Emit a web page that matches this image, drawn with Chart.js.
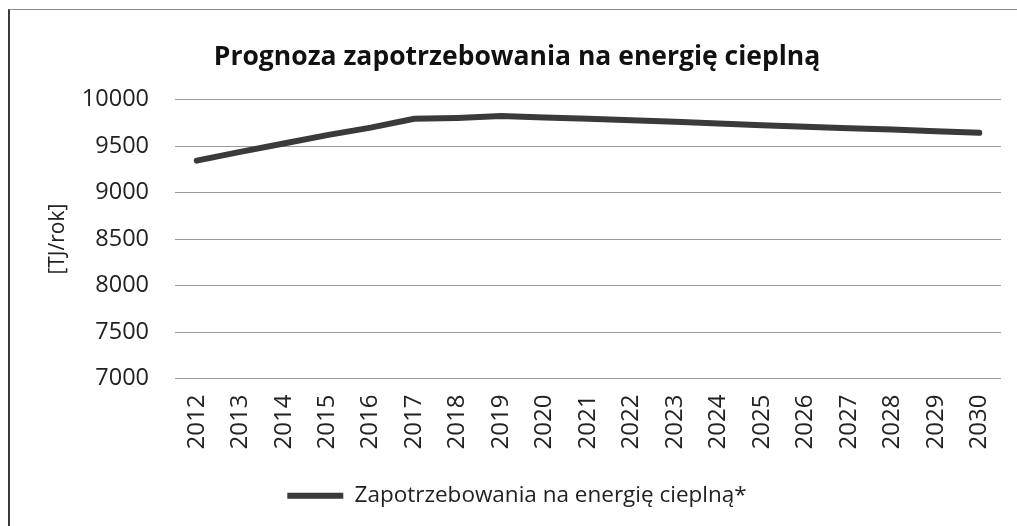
<!DOCTYPE html>
<html lang="pl">
<head>
<meta charset="utf-8">
<script src="https://cdn.jsdelivr.net/npm/chart.js@4"></script>
<style>
    html, body { margin: 0; padding: 0; background: #fff; }
    #wrap { position: relative; width: 1017px; height: 526px; overflow: hidden; }
    #frame {
        position: absolute; left: 8px; top: 9px; right: -5px; bottom: -5px;
        border-left: 2px solid #3a3a3a; border-top: 1px solid #8a8a8a;
        pointer-events: none;
    }
    canvas { position: absolute; left: 0; top: 0; }
</style>
</head>
<body>
<div id="wrap">
    <canvas id="heatChart" width="1017" height="526"></canvas>
    <div id="frame"></div>
</div>
<script>
// --- Data ---
const years = ['2012', '2013', '2014', '2015', '2016', '2017', '2018', '2019', '2020', '2021',
    '2022', '2023', '2024', '2025', '2026', '2027', '2028', '2029', '2030'];
const demand = [9345, 9440, 9530, 9620, 9700, 9795, 9805, 9825, 9810, 9795,
    9780, 9765, 9745, 9725, 9710, 9695, 9680, 9662, 9645];
const yTicks = [7000, 7500, 8000, 8500, 9000, 9500, 10000];

const chartTitle = 'Prognoza zapotrzebowania na energię cieplną';
const seriesName = 'Zapotrzebowania na energię cieplną*';
const yTitle = '[TJ/rok]';

const FONT = '"Open Sans", "DejaVu Sans", sans-serif';
const INK = '#222';

const ctx = document.getElementById('heatChart').getContext('2d');
new Chart(ctx, {
    type: 'line',
    data: {
        labels: years,
        datasets: [{
            label: seriesName,
            data: demand,
            borderColor: '#3a3a3a',
            backgroundColor: '#3a3a3a',
            borderWidth: 6,
            borderCapStyle: 'round',
            pointRadius: 0,
            pointStyle: 'line',
            tension: 0
        }]
    },
    options: {
        responsive: false,
        animation: false,
        layout: { padding: { left: 33, right: 16, top: 0, bottom: 9 } },
        plugins: {
            title: {
                display: true,
                text: chartTitle,
                color: '#111',
                font: { family: FONT, size: 26.5, weight: 'bold' },
                padding: { top: 42, bottom: 26 }
            },
            legend: {
                position: 'bottom',
                labels: {
                    color: INK,
                    font: { family: FONT, size: 22.5 },
                    usePointStyle: true,
                    pointStyle: 'line',
                    pointStyleWidth: 56,
                    padding: 10
                }
            },
            tooltip: { enabled: false }
        },
        scales: {
            x: {
                offset: true,
                grid: { display: false },
                border: { display: false },
                ticks: {
                    color: INK,
                    font: { family: FONT, size: 24 },
                    maxRotation: 90,
                    minRotation: 90,
                    padding: 8,
                    autoSkip: false
                },
                afterFit: (scale) => { scale.height = 96; }
            },
            y: {
                min: 7000,
                max: 10000,
                afterBuildTicks: (scale) => { scale.ticks = yTicks.map(v => ({ value: v })); },
                grid: { color: '#9a9a9a', lineWidth: 1, drawTicks: false },
                border: { display: false },
                ticks: {
                    color: INK,
                    font: { family: FONT, size: 23.5 },
                    padding: 26,
                    callback: (v) => String(v)
                },
                title: {
                    display: true,
                    text: yTitle,
                    color: INK,
                    font: { family: FONT, size: 21 },
                    padding: { top: 12, bottom: 0 }
                },
                afterFit: (scale) => { scale.width = 142; }
            }
        }
    }
});
</script>
</body>
</html>
